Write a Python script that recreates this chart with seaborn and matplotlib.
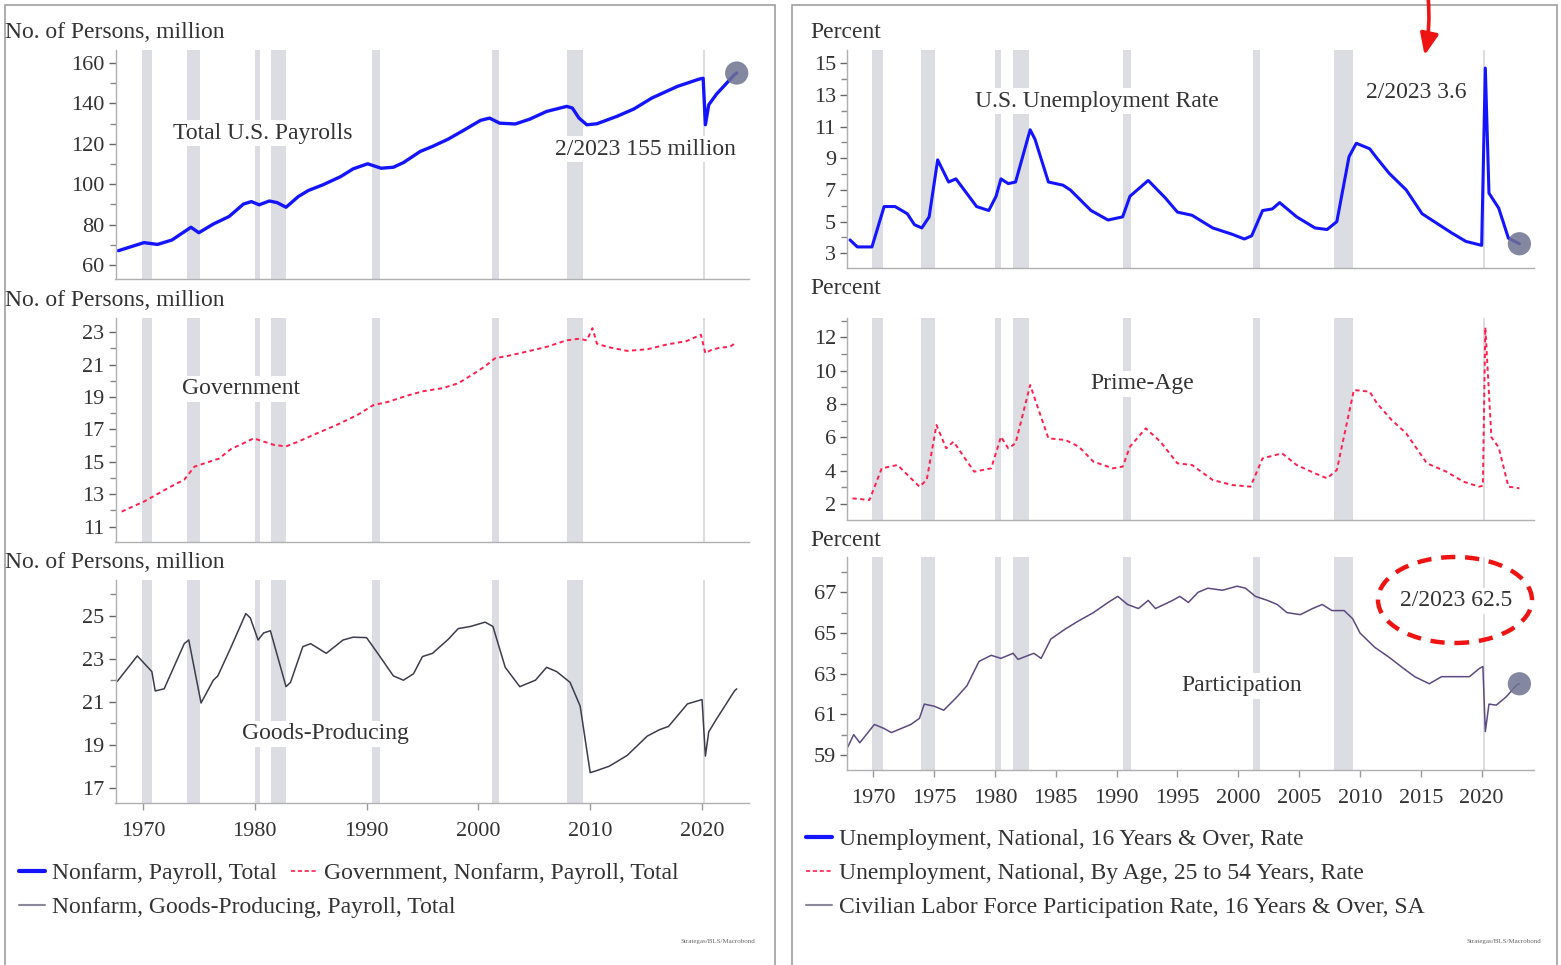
import matplotlib
matplotlib.use("Agg")
import matplotlib.pyplot as plt
import seaborn as sns
from matplotlib.lines import Line2D
from matplotlib.patches import Rectangle, Ellipse, FancyArrowPatch
from matplotlib.ticker import MultipleLocator

# ---- data (decimal years) ----
payroll_years = [1967.8, 1970.1, 1971.3, 1972.6, 1974.3, 1975.0, 1976.3, 1977.7, 1979.0, 1979.7,
                 1980.4, 1981.3, 1982.0, 1982.8, 1983.9, 1984.8, 1986.1, 1987.7, 1988.8, 1990.1,
                 1991.3, 1992.4, 1993.3, 1994.8, 1995.9, 1997.3, 1998.6, 2000.2, 2001.0, 2001.9,
                 2003.3, 2004.6, 2006.1, 2007.9, 2008.4, 2009.0, 2009.7, 2010.6, 2012.4, 2013.9,
                 2015.5, 2017.8, 2019.8, 2020.1, 2020.3, 2020.6, 2021.3, 2022.9, 2023.1]
payroll_vals = [67.1, 71.1, 70.2, 72.4, 78.7, 76.0, 80.3, 84.0, 90.2, 91.4,
                89.8, 91.7, 90.9, 88.6, 93.9, 96.9, 99.7, 103.8, 107.6, 110.1,
                107.9, 108.4, 110.7, 116.2, 118.7, 122.3, 126.4, 131.6, 132.7, 130.2,
                129.8, 132.2, 136.0, 138.5, 137.7, 132.7, 129.4, 129.9, 133.6, 137.2,
                142.6, 148.4, 152.1, 152.4, 129.4, 139.3, 144.6, 154.2, 155.0]

gov_years = [1968.1, 1970.1, 1972.3, 1973.7, 1974.6, 1975.9, 1976.8, 1977.9, 1979.0, 1979.9,
             1980.8, 1981.7, 1982.8, 1983.9, 1985.7, 1987.4, 1989.2, 1990.6, 1991.9, 1993.7,
             1995.0, 1996.8, 1998.2, 1999.5, 2000.6, 2001.5, 2002.7, 2004.3, 2006.1, 2007.9,
             2009.0, 2009.7, 2010.2, 2010.6, 2011.5, 2013.3, 2015.1, 2016.9, 2018.6, 2019.9,
             2020.3, 2020.8, 2021.6, 2022.5, 2023.1]
gov_vals = [11.93, 12.55, 13.4, 13.9, 14.7, 15.0, 15.2, 15.8, 16.15, 16.45,
            16.25, 16.05, 15.95, 16.25, 16.8, 17.3, 17.9, 18.5, 18.7, 19.1,
            19.35, 19.55, 19.85, 20.4, 20.9, 21.4, 21.55, 21.8, 22.1, 22.5,
            22.6, 22.5, 23.25, 22.3, 22.1, 21.85, 21.95, 22.25, 22.45, 22.85,
            21.7, 21.9, 22.05, 22.1, 22.4]

goods_years = [1967.7, 1969.5, 1970.8, 1971.1, 1971.9, 1973.7, 1974.1, 1975.2, 1976.3, 1976.7,
               1977.9, 1979.2, 1979.6, 1980.3, 1980.8, 1981.4, 1982.8, 1983.2, 1984.3, 1985.0,
               1986.4, 1987.9, 1988.8, 1990.0, 1991.0, 1992.4, 1993.3, 1994.2, 1995.0, 1995.9,
               1997.3, 1998.2, 1999.3, 2000.6, 2001.3, 2002.4, 2003.7, 2005.1, 2006.1, 2007.0,
               2008.2, 2009.1, 2010.0, 2010.6, 2011.7, 2013.3, 2015.1, 2016.2, 2017.0, 2018.7,
               2020.0, 2020.3, 2020.6, 2021.3, 2022.9, 2023.1]
goods_vals = [21.94, 23.13, 22.4, 21.5, 21.6, 23.7, 23.87, 20.94, 22.0, 22.2,
              23.56, 25.1, 24.9, 23.87, 24.2, 24.3, 21.7, 21.9, 23.56, 23.7,
              23.25, 23.87, 24.0, 23.98, 23.25, 22.2, 22.0, 22.3, 23.1, 23.25,
              23.9, 24.4, 24.5, 24.7, 24.5, 22.6, 21.7, 22.0, 22.6, 22.4,
              21.9, 20.8, 17.7, 17.8, 18.0, 18.5, 19.4, 19.7, 19.85, 20.9,
              21.1, 18.47, 19.6, 20.2, 21.5, 21.6]

unemp_years = [1968.1, 1968.7, 1969.9, 1970.9, 1971.8, 1972.8, 1973.4, 1974.0, 1974.6, 1975.3,
               1976.2, 1976.8, 1978.5, 1979.5, 1980.1, 1980.5, 1981.1, 1981.7, 1982.9, 1983.3,
               1984.4, 1985.6, 1986.2, 1987.9, 1989.3, 1990.5, 1991.1, 1992.6, 1994.0, 1995.0,
               1996.2, 1997.9, 1999.5, 2000.5, 2001.1, 2002.0, 2002.8, 2003.4, 2004.8, 2006.3,
               2007.3, 2008.1, 2009.1, 2009.7, 2010.8, 2011.4, 2012.4, 2013.8, 2015.1, 2016.3,
               2017.5, 2018.7, 2020.0, 2020.3, 2020.6, 2021.4, 2022.2, 2023.1]
unemp_vals = [3.84, 3.4, 3.4, 5.95, 5.95, 5.5, 4.8, 4.6, 5.3, 8.9,
              7.5, 7.7, 5.95, 5.7, 6.6, 7.7, 7.4, 7.5, 10.8, 10.2,
              7.5, 7.3, 7.0, 5.7, 5.1, 5.3, 6.6, 7.6, 6.5, 5.6,
              5.4, 4.6, 4.2, 3.9, 4.1, 5.7, 5.8, 6.2, 5.3, 4.6,
              4.5, 5.0, 9.1, 9.95, 9.6, 9.0, 8.05, 7.0, 5.5, 4.9,
              4.3, 3.75, 3.5, 14.7, 6.8, 5.85, 3.95, 3.6]

prime_years = [1968.3, 1969.7, 1970.7, 1972.0, 1973.8, 1974.4, 1975.2, 1976.0, 1976.6, 1978.3,
               1979.7, 1980.5, 1981.1, 1981.7, 1982.9, 1983.6, 1984.4, 1985.8, 1986.9, 1988.1,
               1989.7, 1990.5, 1991.1, 1992.4, 1993.6, 1995.0, 1996.2, 1997.9, 1999.5, 2001.0,
               2002.0, 2003.6, 2004.8, 2006.3, 2007.3, 2008.1, 2009.5, 2010.8, 2011.4, 2012.6,
               2013.8, 2015.5, 2017.1, 2018.5, 2019.8, 2020.1, 2020.3, 2020.8, 2021.4, 2022.2,
               2023.1]
prime_vals = [2.34, 2.24, 4.14, 4.34, 3.04, 3.44, 6.74, 5.34, 5.74, 3.94,
              4.14, 6.04, 5.34, 5.64, 9.14, 7.64, 5.94, 5.84, 5.44, 4.54,
              4.14, 4.24, 5.44, 6.54, 5.74, 4.44, 4.34, 3.44, 3.14, 3.04,
              4.74, 5.04, 4.34, 3.84, 3.54, 4.04, 8.84, 8.74, 8.04, 7.04,
              6.24, 4.44, 3.94, 3.34, 3.04, 3.1, 12.6, 6.0, 5.4, 3.04,
              2.94]

part_years = [1967.8, 1968.4, 1968.9, 1969.7, 1970.1, 1970.9, 1971.5, 1972.3, 1973.1, 1973.8,
              1974.2, 1975.0, 1975.8, 1976.8, 1977.7, 1978.7, 1979.7, 1980.5, 1981.5, 1981.9,
              1983.2, 1983.8, 1984.6, 1985.8, 1986.9, 1988.1, 1989.3, 1990.1, 1990.9, 1991.8,
              1992.6, 1993.2, 1994.6, 1995.2, 1995.9, 1996.7, 1997.5, 1998.7, 1999.9, 2000.6,
              2001.4, 2002.4, 2003.2, 2004.0, 2005.1, 2006.1, 2006.9, 2007.7, 2008.7, 2009.4,
              2010.0, 2011.2, 2012.4, 2013.7, 2014.5, 2015.7, 2016.7, 2018.0, 2019.0, 2019.8,
              2020.1, 2020.3, 2020.6, 2021.2, 2022.0, 2022.9, 2023.1]
part_vals = [59.25, 60.0, 59.6, 60.2, 60.5, 60.3, 60.1, 60.3, 60.5, 60.8,
             61.5, 61.4, 61.2, 61.8, 62.4, 63.6, 63.9, 63.75, 64.0, 63.7,
             64.0, 63.75, 64.7, 65.2, 65.6, 66.0, 66.5, 66.8, 66.4, 66.2,
             66.6, 66.2, 66.6, 66.8, 66.5, 67.0, 67.2, 67.1, 67.3, 67.2,
             66.8, 66.6, 66.4, 66.0, 65.9, 66.2, 66.4, 66.1, 66.1, 65.7,
             65.0, 64.3, 63.8, 63.2, 62.85, 62.5, 62.85, 62.85, 62.85, 63.25,
             63.35, 60.15, 61.5, 61.45, 61.85, 62.45, 62.5]

rec_start = [1969.9, 1973.9, 1980.0, 1981.5, 1990.5, 2001.2, 2007.9, 2020.1]
rec_end = [1970.8, 1975.1, 1980.5, 1982.8, 1991.2, 2001.8, 2009.4, 2020.3]

W, H = 1561, 965
BLUE = "#1414ff"
RED = "#ff1f4f"
TXT = "#333333"
TICK_FS = 16
TEXT_FS = 17


def fx(x):
    return x / W


def fy(y):
    return 1 - y / H


def style_axis(ax, xlim, ylim, yticks, minor, show_x=False, xstep=10):
    for y0, y1 in zip(rec_start, rec_end):
        ax.axvspan(y0, y1, color="#dcdde2", lw=0, zorder=0)
    ax.set_xlim(*xlim)
    ax.set_ylim(*ylim)
    ax.set_yticks(yticks)
    ax.yaxis.set_minor_locator(MultipleLocator(minor))
    sns.despine(ax=ax)
    for s in ["left", "bottom"]:
        ax.spines[s].set_color("#b0b0b0")
        ax.spines[s].set_linewidth(1.0)
    ax.tick_params(axis="y", which="major", length=5, width=1, color="#666666",
                   labelsize=TICK_FS, labelcolor=TXT, pad=3, left=True)
    ax.tick_params(axis="y", which="minor", length=4, width=1, color="#888888", left=True)
    ax.set_xlabel("")
    ax.set_ylabel("")
    if show_x:
        ax.xaxis.set_major_locator(MultipleLocator(xstep))
        ax.tick_params(axis="x", which="major", length=5, width=1, color="#999999",
                       labelsize=TICK_FS, labelcolor=TXT, pad=9, bottom=True)
    else:
        ax.tick_params(axis="x", bottom=False, labelbottom=False)
    ax.grid(False)


sns.set_theme(style="white")
plt.rcParams["font.family"] = ["Liberation Serif", "DejaVu Serif"]

fig = plt.figure(figsize=(W / 100, H / 100), dpi=100)

# panel frames
fig.add_artist(Rectangle((fx(5), fy(966)), fx(770), 961 / H, transform=fig.transFigure,
                         fill=False, ec="#a0a0a0", lw=1.2))
fig.add_artist(Rectangle((fx(792), fy(966)), fx(765), 961 / H, transform=fig.transFigure,
                         fill=False, ec="#a0a0a0", lw=1.2))

left_x, left_w = fx(115.5), fx(749 - 115.5)
right_x, right_w = fx(847), fx(1534 - 847)
lxlim = (1967.55, 2024.2)
rxlim = (1967.85, 2024.3)

ax1 = fig.add_axes([left_x, fy(279), left_w, 229 / H])
ax2 = fig.add_axes([left_x, fy(541.7), left_w, 223.7 / H])
ax3 = fig.add_axes([left_x, fy(803), left_w, 223 / H])
ax4 = fig.add_axes([right_x, fy(268.3), right_w, 218.3 / H])
ax5 = fig.add_axes([right_x, fy(520), right_w, 202 / H])
ax6 = fig.add_axes([right_x, fy(770), right_w, 213.3 / H])

# left column
sns.lineplot(x=payroll_years, y=payroll_vals, ax=ax1, color=BLUE, linewidth=2.4)
sns.scatterplot(x=payroll_years[-1:], y=payroll_vals[-1:], ax=ax1, s=280,
                color="#6f7290", alpha=0.85, edgecolor="none", zorder=5)
style_axis(ax1, lxlim, (53.1, 166.4), range(60, 161, 20), 10)

sns.lineplot(x=gov_years, y=gov_vals, ax=ax2, color=RED, linewidth=1.4)
ax2.lines[-1].set_dashes([2.2, 1.8])
style_axis(ax2, lxlim, (10.07, 23.88), range(11, 24, 2), 1)

sns.lineplot(x=goods_years, y=goods_vals, ax=ax3, color="#3c3c4c", linewidth=1.1)
style_axis(ax3, lxlim, (16.29, 26.66), range(17, 26, 2), 1, show_x=True, xstep=10)

# right column
sns.lineplot(x=unemp_years, y=unemp_vals, ax=ax4, color=BLUE, linewidth=2.2)
sns.scatterplot(x=unemp_years[-1:], y=unemp_vals[-1:], ax=ax4, s=280,
                color="#6f7290", alpha=0.85, edgecolor="none", zorder=5)
style_axis(ax4, rxlim, (2.05, 15.84), range(3, 16, 2), 1)

sns.lineplot(x=prime_years, y=prime_vals, ax=ax5, color=RED, linewidth=1.4)
ax5.lines[-1].set_dashes([2.2, 1.8])
style_axis(ax5, rxlim, (1.04, 13.16), range(2, 13, 2), 1)

sns.lineplot(x=part_years, y=part_vals, ax=ax6, color="#5c4a80", linewidth=1.1)
sns.scatterplot(x=part_years[-1:], y=part_vals[-1:], ax=ax6, s=280,
                color="#6f7290", alpha=0.85, edgecolor="none", zorder=5)
style_axis(ax6, rxlim, (58.26, 68.75), range(59, 68, 2), 1, show_x=True, xstep=5)

# axis titles
for y in [32, 300, 562]:
    fig.text(fx(5), fy(y), "No. of Persons, million", fontsize=TEXT_FS, color=TXT,
             ha="left", va="center")
for y in [32, 289, 540]:
    fig.text(fx(810), fy(y), "Percent", fontsize=TEXT_FS, color=TXT, ha="left", va="center")

# in-chart labels (white box hides recession bands)
box = dict(facecolor="white", edgecolor="none", pad=2)
labels = [
    (263, 133, "Total U.S. Payrolls"),
    (645, 149, "2/2023 155 million"),
    (241, 389, "Government"),
    (325, 734, "Goods-Producing"),
    (1097, 101, "U.S. Unemployment Rate"),
    (1416, 93, "2/2023 3.6"),
    (1142, 384, "Prime-Age"),
    (1242, 686, "Participation"),
    (1456, 601, "2/2023 62.5"),
]
for x, y, s in labels:
    fig.text(fx(x), fy(y), s, fontsize=TEXT_FS, color=TXT, ha="center", va="center",
             bbox=box, zorder=10)

# red dashed ellipse and arrow
fig.add_artist(Ellipse((fx(1455), fy(600)), fx(154), 86 / H, transform=fig.transFigure,
                       fill=False, ec="#ee1414", lw=3.2, linestyle=(0, (3.2, 2.2))))
fig.add_artist(FancyArrowPatch((fx(1428), fy(-4)), (fx(1424), fy(58)),
                               transform=fig.transFigure, connectionstyle="arc3,rad=-0.08",
                               arrowstyle="-|>,head_length=13,head_width=5.5",
                               color="#ee1414", lw=2.6))


# legends
def legend_row(handles, x, y):
    lg = fig.legend(handles=handles, loc="center left", bbox_to_anchor=(fx(x), fy(y)),
                    ncol=len(handles), frameon=False, fontsize=TEXT_FS, handlelength=1.1,
                    handletextpad=0.3, columnspacing=0.6, borderpad=0, borderaxespad=0)
    for t in lg.get_texts():
        t.set_color(TXT)
    return lg


h_pay = Line2D([], [], color=BLUE, lw=3, label="Nonfarm, Payroll, Total")
h_gov = Line2D([], [], color=RED, lw=1.2, dashes=[2.5, 1.6],
               label="Government, Nonfarm, Payroll, Total")
h_goods = Line2D([], [], color="#8a8a9a", lw=1.5, label="Nonfarm, Goods-Producing, Payroll, Total")
h_un = Line2D([], [], color=BLUE, lw=3, label="Unemployment, National, 16 Years & Over, Rate")
h_pr = Line2D([], [], color=RED, lw=1.2, dashes=[2.5, 1.6],
              label="Unemployment, National, By Age, 25 to 54 Years, Rate")
h_pt = Line2D([], [], color="#8a8a9a", lw=1.5,
              label="Civilian Labor Force Participation Rate, 16 Years & Over, SA")

legend_row([h_pay, h_gov], 19, 873)
legend_row([h_goods], 19, 907)
legend_row([h_un], 806, 839)
legend_row([h_pr], 806, 873)
legend_row([h_pt], 806, 907)

fig.text(fx(755), fy(941), "Strategas/BLS/Macrobond", fontsize=5, color="#666666",
         ha="right", va="center")
fig.text(fx(1541), fy(941), "Strategas/BLS/Macrobond", fontsize=5, color="#666666",
         ha="right", va="center")

fig.savefig("out.png", dpi=100, facecolor="white")
